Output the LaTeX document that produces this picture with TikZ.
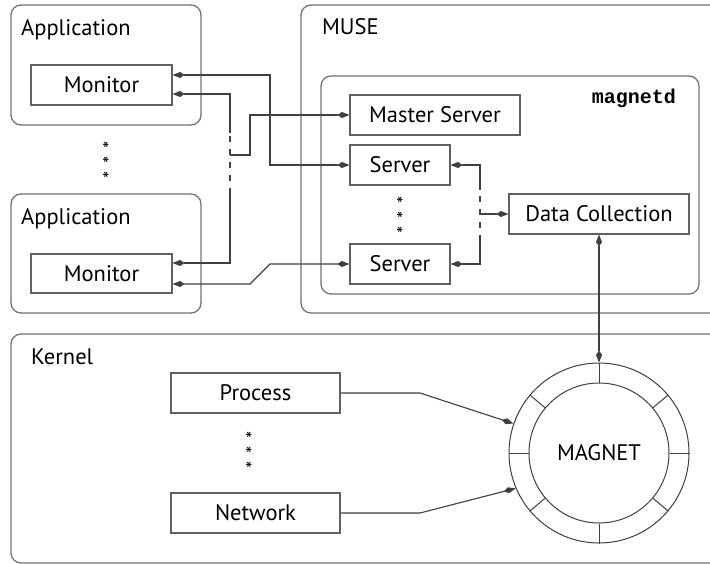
\documentclass[tikz,border=0pt]{standalone}
\usepackage{fontspec}
\setmainfont{PT Sans}
\newfontfamily\codefont{Liberation Mono}
\usetikzlibrary{arrows.meta}
\definecolor{boxgray}{gray}{0.45}
\definecolor{blkgray}{gray}{0.38}
\definecolor{linegray}{gray}{0.25}
\begin{document}
\begin{tikzpicture}[x=1pt,y=-1pt,
  outerbox/.style={draw=boxgray, line width=1.3pt, rounded corners=10pt},
  blk/.style={draw=blkgray, line width=1.1pt, rectangle, inner sep=0pt, font=\fontsize{22.5}{26}\selectfont},
  conn/.style={draw=linegray, line width=1.1pt},
  tipk/.tip={Kite[length=12pt,width=6pt,inset=4.5pt]},
  lbl/.style={font=\fontsize{22.5}{26}\selectfont, anchor=base west, inner sep=0pt},
  starmark/.style={font=\fontsize{20}{15}\selectfont, inner sep=0pt, align=center},
  ring/.style={draw=linegray, line width=1pt}
]
\useasboundingbox (0,0) rectangle (710,564);
\clip (0,0) rectangle (710,564);
\fill[white] (0,0) rectangle (710,564);

% outer boxes
\draw[outerbox] (11,5) rectangle (201,125);
\draw[outerbox] (11,194) rectangle (201,313);
\draw[outerbox] (301,5) rectangle (730,313);
\draw[outerbox] (321,76) rectangle (699,294);
\draw[outerbox] (11,334) rectangle (730,563);

% labels
\node[lbl] (lapp1) at (21,36) {Application};
\node[lbl] (lapp2) at (21,225) {Application};
\node[lbl] (lmuse) at (322,35) {MUSE};
\node[lbl] (lkern) at (31,364) {Kernel};
\node[font=\codefont\bfseries\fontsize{20}{20}\selectfont, anchor=base east, inner sep=0pt] (lmd) at (676,104) {magnetd};

% blocks
\node[blk, minimum width=141pt, minimum height=40pt] (mon1) at (101.5,85) {Monitor};
\node[blk, minimum width=141pt, minimum height=39pt] (mon2) at (101.5,273.5) {Monitor};
\node[blk, minimum width=170pt, minimum height=40pt] (mstr) at (435,115) {Master Server};
\node[blk, minimum width=100pt, minimum height=40pt] (srv1) at (400,165) {Server};
\node[blk, minimum width=100pt, minimum height=40pt] (srv2) at (400,264) {Server};
\node[blk, minimum width=180pt, minimum height=40pt] (dc) at (599,214) {Data Collection};
\node[blk, minimum width=169pt, minimum height=40pt] (proc) at (255.5,393) {Process};
\node[blk, minimum width=169pt, minimum height=40pt] (net) at (255.5,513) {Network};

% magnet
\node[ring, circle, minimum size=180pt, inner sep=0pt] (mag) at (599,453) {};
\node[ring, circle, minimum size=140pt, inner sep=0pt, font=\fontsize{22.5}{26}\selectfont] (magin) at (599,453) {MAGNET};
\foreach \a in {0,40,90,140,180,220,270,320}
  \draw[ring] (magin.\a) -- (mag.\a);

% stars
\node[starmark] (st1) at (106,164) {*\\*\\*};
\node[starmark] (st2) at (400,219) {*\\*\\*};
\node[starmark] (st3) at (249,454) {*\\*\\*};

% connectors left
\draw[conn, tipk-tipk] (mon1.east |- 0,75) -| (270,165) -- (srv1.west);
\draw[conn, tipk-] (mon1.east |- 0,94) -- (230,94) -- (230,133);
\draw[conn, dash pattern=on 6pt off 7pt] (230,136) -- (230,190);
\draw[conn, -tipk] (230,190) -- (230,263) -- (mon2.east |- 0,263);
\draw[conn, -tipk] (230,155) -- (250,155) |- (mstr.west);
\draw[conn, tipk-tipk] (mon2.east |- 0,284) -- (250,284) -- (270,264) -- (srv2.west);

% connectors right
\draw[conn, tipk-] (srv1.east) -- (480,165) -- (480,190);
\draw[conn, dash pattern=on 6pt off 7pt] (480,196) -- (480,240);
\draw[conn, -tipk] (480,240) -- (480,264) -- (srv2.east);
\draw[conn, -tipk] (480,214) -- (dc.west);
\draw[conn, tipk-tipk] (dc.south) -- (mag.north);

% kernel
\draw[conn, -tipk] (proc.east) -- (420,393) -- (mag.161);
\draw[conn, -tipk] (net.east) -- (420,513) -- (mag.203);
\end{tikzpicture}
\end{document}
